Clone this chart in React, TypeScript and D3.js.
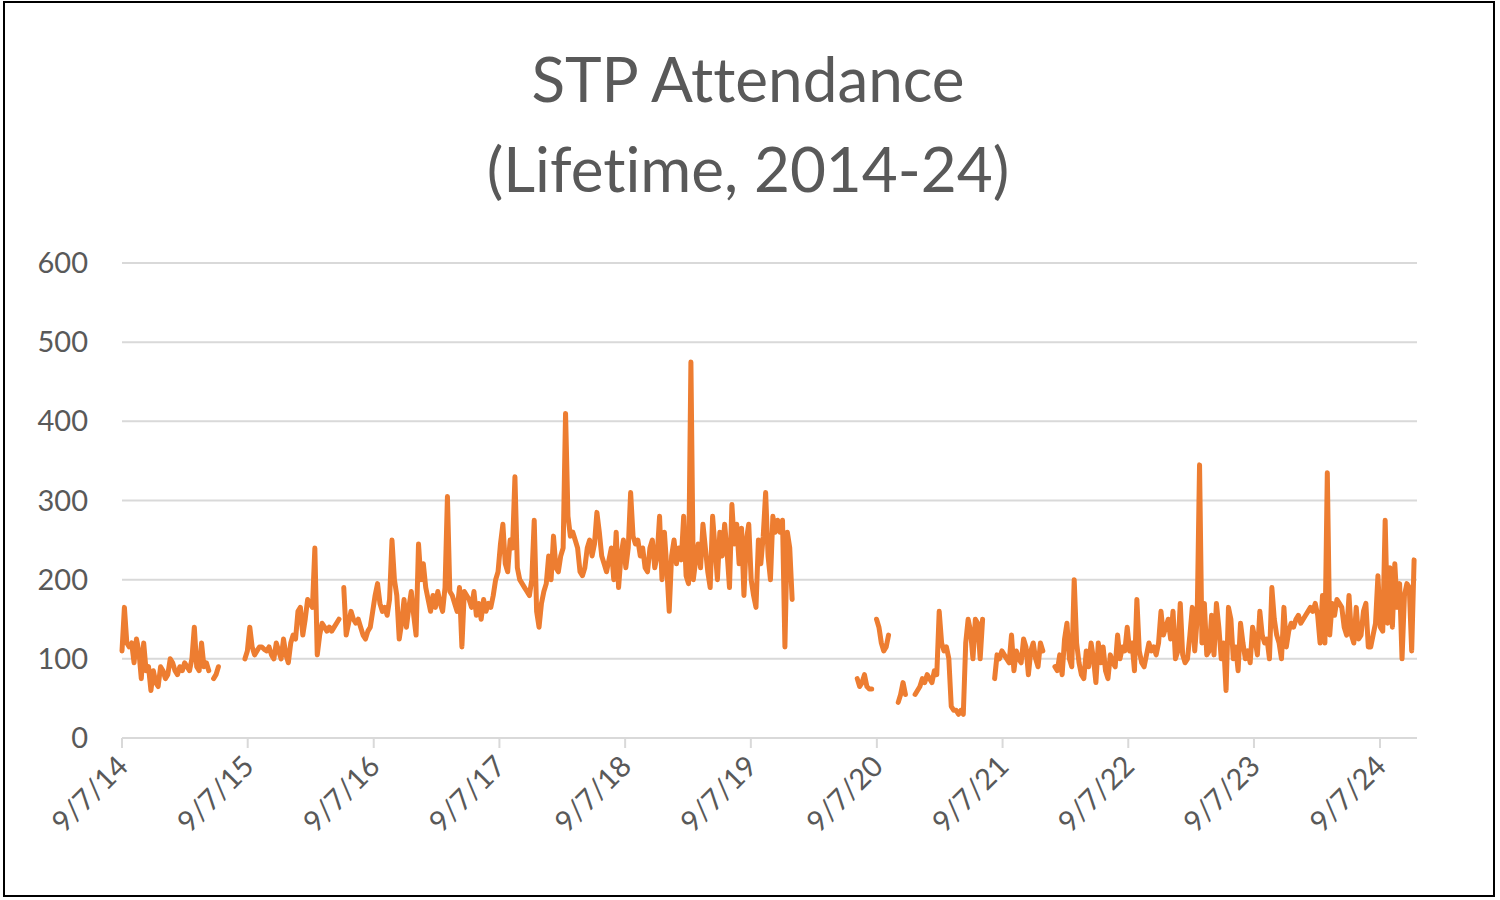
import { useEffect, useRef } from "react";
import * as d3 from "d3";

// each segment: first week date + weekly attendance values (null = no meeting)
const segStarts = ["2014-09-07", "2015-08-30", "2020-07-12", "2020-09-06", "2020-11-08", "2020-12-27", "2021-08-15", "2022-02-06"];
const segA = [110, 165, 120, 115, 120, 95, 125, 110, 75, 120, 85, 90, 60, 85, 70, 65, 90, 85, 75, 80, 100, 95, 85, 80, 90, 85, 95, 90, 85, 100, 140, 90, 85, 120, 90, 95, 85, null, 75, 80, 90];
const segB = [100, 110, 140, 115, 105, 110, 115, 115, 112, 110, 115, 105, 100, 120, 110, 100, 125, 105, 95, 120, 130, 125, 160, 165, 130, 150, 175, 170, 165, 240, 105, 130, 145, 140, 135, 140, 135, 140, 145, 150, null,
  190, 130, 145, 160, 150, 145, 150, 140, 130, 125, 135, 140, 160, 180, 195, 170, 160, 165, 155, 175, 250, 200, 180, 125, 145, 175, 140, 165, 185, 155, 130, 245, 200, 220, 190, 175, 160, 180, 165, 185, 170, 160, 190, 305, 185, 180, 170, 160, 190, 115, 185, 180, 175, 165, 185, 155, 170, 150, 175, 160, 170, 165, 180, 200, 210, 245, 270, 220,
  210, 250, 240, 330, 215, 200, 195, 190, 185, 180, 200, 275, 160, 140, 170, 185, 195, 230, 200, 255, 215, 210, 230, 240, 410, 280, 255, 260, 250, 240, 210, 205, 215, 240, 250, 230, 245, 285, 260, 230, 220, 210, 225, 240, 200, 260, 190, 230, 250, 215, 240, 310, 255, 245, 250, 230, 240, 215,
  210, 240, 250, 215, 230, 280, 200, 260, 215, 160, 230, 250, 220, 240, 225, 280, 205, 195, 475, 200, 225, 245, 215, 270, 240, 210, 190, 280, 240, 200, 260, 230, 270, 235, 190, 295, 245, 270, 220, 265, 180, 250, 270, 200, 180, 165, 250, 220, 255, 310, 230, 200, 280, 260, 275, 260, 275, 115, 260, 240, 175];
const segC = [75, 65, 70, 80, 65, 62, 62];
const segD = [150, 140, 120, 110, 115, 130];
const segE = [45, 55, 70, 55];
const segF = [55, 60, 65, 75, 70, 80, 75, 70, 85, 80, 160, 120, 110, 115, 100, 40, 35, 35, 30, 35, 30, 120, 150, 135, 100, 150, 145, 100, 150];
const segG = [75, 105, 100, 110, 105, 100, 95, 130, 85, 110, 100, 95, 125, 115, 80, 110, 120, 100, 90, 120, 110];
const segH = [90, 85, 105, 80, 125, 145, 100, 90, 200, 120, 95, 80, 75, 110, 90, 120, 100, 70, 120, 95, 115, 85, 75, 105, 95, 90, 130, 100, 115, 110, 140,
  110, 120, 85, 175, 110, 95, 90, 105, 120, 110, 115, 105, 120, 160, 130, 140, 150, 125, 160, 100, 110, 170, 105, 95, 100, 130, 165, 110, 150,
  345, 120, 170, 105, 110, 155, 105, 170, 140, 100, 120, 60, 165, 150, 100, 115, 85, 145, 120, 100, 110, 95, 140, 125, 105,
  160, 130, 120, 125, 100, 190, 150, 130, 120, 100, 165, 115, 135, 145, 140, 150, 155, 145, 150, 155, 160, 165, 160, 170, 155, 120, 180, 120, 335,
  130, 170, 155, 175, 170, 165, 140, 130, 180, 130, 120, 165, 125, 130, 160, 170, 115, 115, 130, 145, 205, 140, 135, 275, 145, 215, 140, 220, 165, 195, 100, 180, 195, 190, 110, 225];
const segments = [segA, segB, segC, segD, segE, segF, segG, segH];
const yTicks = [0, 100, 200, 300, 400, 500, 600];
const xTickYears = [2014, 2015, 2016, 2017, 2018, 2019, 2020, 2021, 2022, 2023, 2024];

type Pt = { date: Date; v: number | null };

export default function App() {
  const ref = useRef<SVGSVGElement | null>(null);

  useEffect(() => {
    if (!ref.current) return;
    const svg = d3.select(ref.current);
    svg.selectAll("*").remove();
    const grey = "#595959";
    const font = "Lato, 'Open Sans', sans-serif";

    const pts: Pt[] = [];
    segments.forEach((seg, i) => {
      const start = new Date(segStarts[i] + "T00:00:00");
      seg.forEach((v, k) => pts.push({ date: d3.timeWeek.offset(start, k), v }));
      pts.push({ date: d3.timeWeek.offset(start, seg.length), v: null });
    });

    const x = d3.scaleTime()
      .domain([new Date(2014, 8, 7), new Date(2024, 8, 7)])
      .range([122, 1380]);
    const y = d3.scaleLinear().domain([0, 600]).range([738, 263]);

    svg.append("rect").attr("x", 4).attr("y", 2).attr("width", 1490).attr("height", 894)
      .attr("fill", "white").attr("stroke", "black").attr("stroke-width", 2);

    const title = svg.append("g").attr("font-family", font).attr("font-size", 62)
      .attr("fill", grey).attr("text-anchor", "middle").style("font-variant-ligatures", "none");
    title.append("text").attr("x", 748).attr("y", 102).text("STP Attendance");
    title.append("text").attr("x", 748).attr("y", 192).text("(Lifetime, 2014-24)");

    svg.append("g").selectAll("line").data(yTicks).join("line")
      .attr("x1", 122).attr("x2", 1417).attr("y1", d => y(d)).attr("y2", d => y(d))
      .attr("stroke", "#d9d9d9").attr("stroke-width", 2);
    svg.append("g").selectAll("text").data(yTicks).join("text")
      .attr("x", 88).attr("y", d => y(d) + 10).attr("text-anchor", "end")
      .attr("font-family", font).attr("font-size", 29).attr("fill", grey).text(d => d);

    const tickDates = xTickYears.map(yr => new Date(yr, 8, 7));
    const gx = svg.append("g");
    gx.selectAll("line").data(tickDates).join("line")
      .attr("x1", d => x(d)).attr("x2", d => x(d)).attr("y1", 738).attr("y2", 748)
      .attr("stroke", "#d9d9d9").attr("stroke-width", 2);
    gx.selectAll("text").data(tickDates).join("text")
      .attr("transform", d => `translate(${x(d) + 8},${768}) rotate(-45)`)
      .attr("text-anchor", "end").attr("font-family", font).attr("font-size", 29).attr("fill", grey)
      .text(d => d3.timeFormat("%-m/%-d/%y")(d));

    const line = d3.line<Pt>()
      .defined(d => d.v !== null)
      .x(d => x(d.date))
      .y(d => y(d.v as number));
    svg.append("path").datum(pts).attr("fill", "none").attr("stroke", "#ed7d31")
      .attr("stroke-width", 5).attr("stroke-linejoin", "round").attr("stroke-linecap", "round")
      .attr("d", line);
  }, []);

  return <svg ref={ref} width={1500} height={900} style={{ position: "absolute", left: 0, top: 0 }} />;
}
